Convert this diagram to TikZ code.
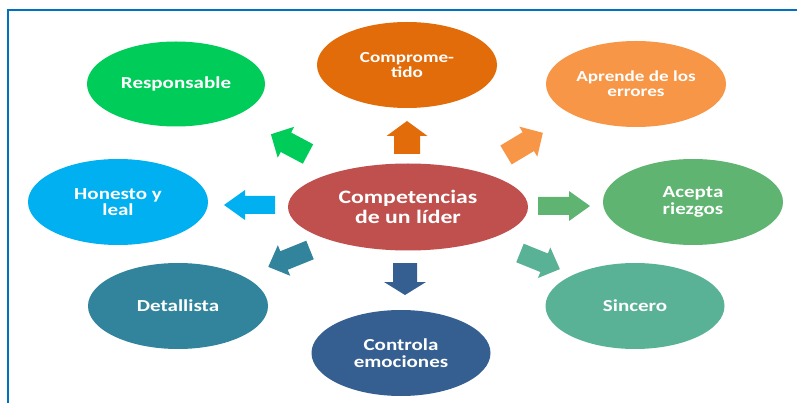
\documentclass[tikz,border=0pt]{standalone}
\usepackage{fontspec}
\setmainfont{Carlito}[FakeStretch=1.25]
\usetikzlibrary{shapes.geometric}
\definecolor{cResp}{RGB}{0,204,90}
\definecolor{cComp}{RGB}{227,108,10}
\definecolor{cApr}{RGB}{247,150,70}
\definecolor{cHon}{RGB}{0,176,240}
\definecolor{cCen}{RGB}{192,80,77}
\definecolor{cAcc}{RGB}{94,180,112}
\definecolor{cDet}{RGB}{49,132,155}
\definecolor{cCtrl}{RGB}{54,95,145}
\definecolor{cSinc}{RGB}{90,178,150}
\definecolor{cFrame}{RGB}{0,112,192}
\newcommand\blkarrow[8]{% x,y,angle,L,w,h,hl,color
  \begin{scope}[shift={(#1,#2)},rotate=#3]
    \fill[#8] (0pt,-#5/2*1pt) -- ({(#4-#7)*1pt},-#5/2*1pt) -- ({(#4-#7)*1pt},-#6/2*1pt)
      -- (#4pt,0pt) -- ({(#4-#7)*1pt},#6/2*1pt) -- ({(#4-#7)*1pt},#5/2*1pt)
      -- (0pt,#5/2*1pt) -- cycle;
  \end{scope}}
\tikzset{
  bubble/.style={ellipse, inner sep=0pt, minimum width=180pt, minimum height=86pt,
    text=white, align=center, font=\bfseries\fontsize{16.8}{16.5}\selectfont},
  smallbubble/.style={bubble, font=\bfseries\fontsize{15.3}{15}\selectfont},
}
\begin{document}
\begin{tikzpicture}[x=1pt,y=-1pt]
\useasboundingbox (0,0) rectangle (797,403);
\draw[cFrame, line width=1.6pt] (797,10) -- (8,10) -- (8,403);
% ellipses
\node[bubble, fill=cResp, minimum width=178pt, minimum height=85pt] (resp) at (176,84) {Responsable};
\node[smallbubble, fill=cComp] (comp) at (407,65) {Comprome-\\tido};
\node[smallbubble, fill=cApr] (apr) at (636,84) {Aprende de los\\errores};
\node[bubble, fill=cHon] (hon) at (118,202) {Honesto y\\leal};
\node[bubble, fill=cCen, minimum width=240pt, minimum height=87pt,
      font=\bfseries\fontsize{19}{20}\selectfont] (cen) at (408,207) {Competencias\\de un líder};
\node[bubble, fill=cAcc] (acc) at (693,202) {Acepta\\riezgos};
\node[bubble, fill=cDet] (det) at (178,306) {Detallista};
\node[bubble, fill=cCtrl, minimum width=179pt] (ctrl) at (401,353) {Controla\\emociones};
\node[bubble, fill=cSinc, minimum width=179pt] (sinc) at (635,306) {Sincero};
% block arrows
\blkarrow{407}{154}{90}{33}{26}{41}{15}{cComp}
\blkarrow{308}{154}{152}{42}{22}{35}{17}{cResp}
\blkarrow{506}{155}{31}{43}{22}{35}{17}{cApr}
\blkarrow{275}{205}{180}{51}{18}{30}{21}{cHon}
\blkarrow{538}{206}{0}{52}{18}{30}{21}{cAcc}
\blkarrow{310}{250}{202}{45}{20}{33}{17}{cDet}
\blkarrow{405}{263}{-90}{32}{24}{42}{13}{cCtrl}
\blkarrow{520}{253}{-22}{43}{20}{33}{17}{cSinc}
\end{tikzpicture}
\end{document}
